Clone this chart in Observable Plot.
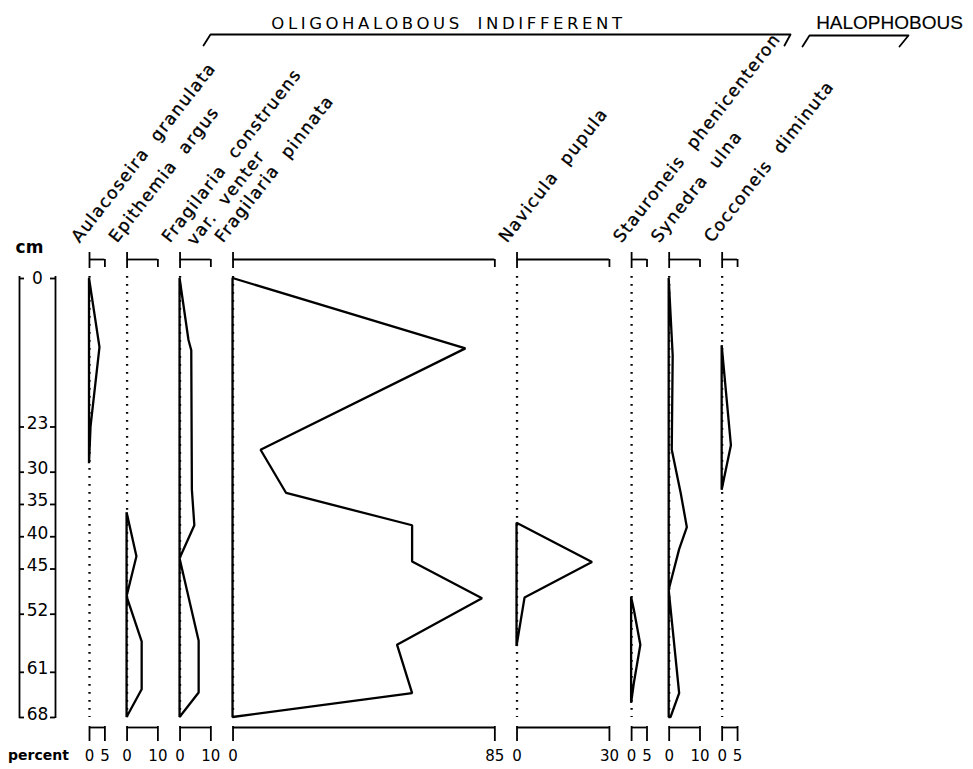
<!DOCTYPE html>
<html>
<head>
<meta charset="utf-8">
<script src="https://cdn.jsdelivr.net/npm/d3@7"></script>
<script src="https://cdn.jsdelivr.net/npm/@observablehq/plot@0.6"></script>
<style>
  html, body { margin: 0; padding: 0; background: #fff; }
  svg { display: block; }
</style>
</head>
<body>
<div id="chart"></div>
<script>
// ---------------- DATA ----------------
const species = [
  "Aulacoseira granulata", "Epithemia argus", "Fragilaria construens",
  "Fragilaria pinnata", "Navicula pupula", "Stauroneis phenicenteron",
  "Synedra ulna", "Cocconeis diminuta"
];
const speciesSubLabel = ["", "", "var. venter", "", "", "", "", ""];
const scaleMax = [5, 10, 10, 85, 30, 5, 10, 5];           // percent scale of each column
const depthTicks = [0, 23, 30, 35, 40, 45, 52, 61, 68];    // cm
const groupNames = ["OLIGOHALOBOUS INDIFFERENT", "HALOPHOBOUS"];

// depth (cm) / percent pairs of each profile
const aulacoseiraDepth = [0, 10.7, 23, 28.7];
const aulacoseiraPct   = [0, 3.4, 0.5, 0];
const epithemiaDepth   = [36.3, 43.1, 49.3, 56.3, 63.7, 68];
const epithemiaPct     = [0, 3.2, 0, 4.9, 4.9, 0];
const construensDepth  = [0, 9.6, 11.2, 32.8, 38.3, 43.4, 56.2, 64.2, 68];
const construensPct    = [0, 2.9, 3.8, 4.0, 4.8, 0, 6.2, 6.2, 0];
const pinnataDepth     = [0, 10.9, 26.6, 33.3, 38.3, 43.9, 49.6, 56.8, 64.3, 68];
const pinnataPct       = [0, 75.6, 9.1, 17.4, 58.3, 58.3, 81, 53.4, 58.3, 0];
const naviculaDepth    = [37.9, 44, 49.5, 57];
const naviculaPct      = [0, 24.5, 2.6, 0];
const stauroneisDepth  = [49.4, 51.4, 56.8, 62.7, 65.8];
const stauroneisPct    = [0, 0.9, 3.0, 0.9, 0];
const synedraDepth     = [0, 12, 26.6, 33.3, 38.6, 42, 48.3, 64.3, 68];
const synedraPct       = [0, 1.3, 1.0, 3.9, 5.9, 3.4, 0, 3.4, 0.6];
const cocconeisDepth   = [10.4, 25.9, 32.8];
const cocconeisPct     = [0, 3.0, 0];

const depthSeries = [aulacoseiraDepth, epithemiaDepth, construensDepth, pinnataDepth,
                     naviculaDepth, stauroneisDepth, synedraDepth, cocconeisDepth];
const pctSeries = [aulacoseiraPct, epithemiaPct, construensPct, pinnataPct,
                   naviculaPct, stauroneisPct, synedraPct, cocconeisPct];

// ---------------- LAYOUT ----------------
const W = 973, H = 769;
const mTop = 278, mBottom = 52, mLeft = 89;
const xMax = 287;                 // percent units across the plotting width
const gapPct = 7.2;               // gap between columns, in percent units
const depthMax = 68;
const pxPerCm = (H - mBottom - mTop) / depthMax;
const yFromPx = px => (px - mTop) / pxPerCm;      // for header annotations above the frame
const xFromPx = px => (px - mLeft) * xMax / (W - mLeft);

let acc = 0;
const panels = species.map((name, i) => {
  const off = acc;
  acc += scaleMax[i] + gapPct;
  return {name, sub: speciesSubLabel[i], max: scaleMax[i], off, end: off + scaleMax[i]};
});

const rows = panels.flatMap((p, i) =>
  depthSeries[i].map((d, j) => ({species: p.name, depth: d, base: p.off, x: p.off + pctSeries[i][j]}))
);

const tickLabels = panels.flatMap(p => [
  {x: p.off, label: "0"},
  {x: p.end, label: String(p.max)}
]);

// header brackets (layout of annotations)
const bracketLayout = [
  {g: 0, xl: 203, xlt: 210, xr: 790, xrb: 784, yTop: 34, yBot: 45, tx: 448},
  {g: 1, xl: 802, xlt: 809, xr: 908, xrb: 899, yTop: 35, yBot: 46, tx: 889}
];
const bracketPts = bracketLayout.flatMap(b => [
  {g: b.g, x: xFromPx(b.xl), y: yFromPx(b.yBot)},
  {g: b.g, x: xFromPx(b.xlt), y: yFromPx(b.yTop)},
  {g: b.g, x: xFromPx(b.xr), y: yFromPx(b.yTop)},
  {g: b.g, x: xFromPx(b.xrb), y: yFromPx(b.yBot)}
]);
const headerText = bracketLayout.map(b => ({label: groupNames[b.g], x: xFromPx(b.tx), g: b.g}));

const labelFont = "DejaVu Sans";
const ink = {stroke: "black", strokeWidth: 1.8};

const chart = Plot.plot({
  width: W,
  height: H,
  marginLeft: mLeft,
  marginRight: 0,
  marginTop: mTop,
  marginBottom: mBottom,
  x: {domain: [0, xMax], axis: null},
  y: {domain: [0, depthMax], reverse: true, axis: null},
  style: {fontFamily: labelFont, color: "black", background: "white", overflow: "visible"},
  marks: [
    // dotted zero lines
    Plot.ruleX(panels, {x: "off", y1: () => 0, y2: () => depthMax, stroke: "black",
      strokeWidth: 2.3, strokeDasharray: "1.8,6.2", insetTop: -2}),
    // profiles
    Plot.areaX(rows, {y: "depth", x1: "base", x2: "x", z: "species", fill: "none",
      stroke: "black", strokeWidth: 2.3, strokeLinejoin: "miter"}),
    // top scale bars
    Plot.ruleY(panels, {y: () => 0, x1: "off", x2: "end", dy: -19, ...ink}),
    Plot.ruleX(panels, {x: "off", y1: () => 0, y2: () => 0, insetTop: -26, insetBottom: 10, ...ink}),
    Plot.ruleX(panels, {x: "end", y1: () => 0, y2: () => 0, insetTop: -19, insetBottom: 11, ...ink}),
    // bottom scale bars
    Plot.ruleY(panels, {y: () => depthMax, x1: "off", x2: "end", dy: 10, ...ink}),
    Plot.ruleX(panels, {x: "off", y1: () => depthMax, y2: () => depthMax, insetTop: 9, insetBottom: -24, ...ink}),
    Plot.ruleX(panels, {x: "end", y1: () => depthMax, y2: () => depthMax, insetTop: 9, insetBottom: -24, ...ink}),
    // bottom tick labels
    Plot.text(tickLabels, {x: "x", y: () => depthMax, text: "label", dy: 43, lineAnchor: "bottom",
      textAnchor: "middle", fontSize: 15}),
    Plot.text(["percent"], {x: () => 0, y: () => depthMax, text: d => d, dx: -51, dy: 42,
      lineAnchor: "bottom", textAnchor: "middle", fontSize: 14, fontWeight: "bold"}),
    // species labels (rotated)
    Plot.text(panels, {x: "off", y: () => 0, text: "name", rotate: -52, textAnchor: "start",
      lineAnchor: "bottom", dx: -10, dy: -35, fontSize: 17, fill: "black",
      stroke: "black", strokeWidth: 0.35, paintOrder: "fill"}),
    Plot.text(panels.filter(p => p.sub), {x: "off", y: () => 0, text: "sub", rotate: -52, textAnchor: "start",
      lineAnchor: "bottom", dx: 15, dy: -32, fontSize: 17, fill: "black",
      stroke: "black", strokeWidth: 0.35, paintOrder: "fill"}),
    // core column
    Plot.ruleX([0], {x: () => 0, y1: () => 0, y2: () => depthMax, dx: -70, insetTop: -2, insetBottom: -1, ...ink}),
    Plot.ruleX([0], {x: () => 0, y1: () => 0, y2: () => depthMax, dx: -34, insetTop: -2, insetBottom: -1, ...ink}),
    Plot.ruleY(depthTicks, {y: d => d, x1: () => 0, x2: () => 0, insetLeft: -70, insetRight: 65, ...ink}),
    Plot.ruleY(depthTicks, {y: d => d, x1: () => 0, x2: () => 0, insetLeft: -39, insetRight: 34, ...ink}),
    Plot.text(depthTicks.filter(d => d > 0), {x: () => 0, y: d => d, text: d => String(d), dx: -52, dy: 2,
      lineAnchor: "bottom", textAnchor: "middle", fontSize: 17}),
    Plot.text(depthTicks.filter(d => d === 0), {x: () => 0, y: d => d, text: d => String(d), dx: -52,
      lineAnchor: "middle", textAnchor: "middle", fontSize: 17}),
    Plot.text(["cm"], {x: () => 0, y: () => 0, text: d => d, dx: -60, dy: -26, lineAnchor: "bottom",
      textAnchor: "middle", fontSize: 17, fontWeight: "bold"}),
    // header groups
    Plot.line(bracketPts, {x: "x", y: "y", z: "g", ...ink}),
    Plot.text(headerText.filter(d => d.g === 0), {x: "x", y: () => yFromPx(28), text: "label",
      lineAnchor: "bottom", textAnchor: "middle", fontSize: 16.5, fill: "black"}),
    Plot.text(headerText.filter(d => d.g === 1), {x: "x", y: () => yFromPx(28), text: "label",
      lineAnchor: "bottom", textAnchor: "middle", fontSize: 19, fontFamily: "Liberation Sans",
      fill: "black", stroke: "black", strokeWidth: 0.15, paintOrder: "fill"})
  ]
});

// letter/word spacing for the hand-lettered labels (applied after Plot renders)
const svgEl = chart.tagName === "svg" ? chart : chart.querySelector("svg");
d3.select(svgEl).selectAll("g").each(function() {
  const t = d3.select(this).selectAll(":scope > text");
  if (t.empty()) return;
  const first = t.node();
  const tr = first.getAttribute("transform") || "";
  if (/rotate\(-52\)/.test(tr)) {
    t.style("letter-spacing", "1.4px").style("word-spacing", "7px");
  }
  if (first.textContent === groupNames[0]) {
    t.style("letter-spacing", "3.6px").style("word-spacing", "6px");
  }
});

document.getElementById("chart").appendChild(chart);
</script>
</body>
</html>
